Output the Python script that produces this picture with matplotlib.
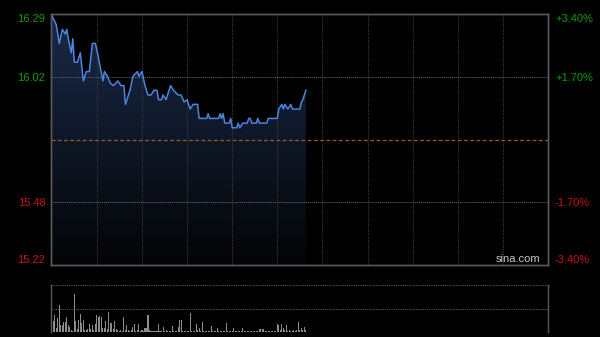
"""Intraday price / volume chart in the sina.com dark style."""

import matplotlib
matplotlib.use("Agg")
import matplotlib.pyplot as plt
import numpy as np
from matplotlib.colors import LinearSegmentedColormap

PREV_CLOSE = 15.75
SESSION_MINUTES = 330

# price path: minute index and price at each turning point
price_minutes = [0, 3, 5, 7, 9, 10, 11, 13, 14, 15, 17, 19, 21, 23, 25, 27, 29, 31,
                 34, 35, 37, 39, 41, 44, 46, 48, 49, 51, 52, 54, 57, 58, 60, 62,
                 64, 66, 68, 70, 71, 73, 74, 76, 79, 81, 84, 86, 88, 90, 92, 94,
                 97, 98, 103, 104, 105, 111, 112, 113, 114, 115, 118, 119, 120,
                 123, 124, 125, 127, 130, 131, 132, 133, 136, 137, 138, 143, 144,
                 150, 151, 153, 154, 155, 157, 159, 160, 165, 166, 167, 169]
price_values = [16.28, 16.24, 16.16, 16.22, 16.20, 16.22, 16.18, 16.12, 16.18, 16.08,
                16.08, 16.12, 16.00, 16.04, 16.04, 16.16, 16.16, 16.10,
                16.00, 16.04, 16.02, 15.99, 15.98, 16.00, 15.98, 15.98, 15.90,
                15.94, 15.96, 16.02, 16.04, 16.02, 16.04, 15.98,
                15.94, 15.94, 15.96, 15.96, 15.92, 15.92, 15.94, 15.92, 15.98,
                15.96, 15.94, 15.94, 15.91, 15.92, 15.88, 15.90,
                15.90, 15.84, 15.84, 15.86, 15.84, 15.84, 15.86, 15.84, 15.86,
                15.82, 15.82, 15.84, 15.80,
                15.80, 15.82, 15.80, 15.82, 15.82, 15.84, 15.84, 15.82, 15.82,
                15.84, 15.82, 15.82, 15.84,
                15.84, 15.88, 15.90, 15.88, 15.90, 15.88, 15.90, 15.88, 15.88,
                15.91, 15.92, 15.96]

# per-minute volume, scaled so the opening print is 100
volume = [100, 24, 37, 8, 29, 57, 14, 14, 21, 21,
          32, 14, 11, 5, 3, 81, 24, 6, 26, 39,
          19, 25, 5, 4, 6, 16, 7, 14, 5, 16,
          36, 32, 34, 32, 9, 9, 24, 6, 43, 19,
          19, 7, 24, 7, 4, 3, 4, 3, 32, 5,
          14, 4, 3, 4, 11, 16, 3, 4, 18, 3,
          4, 3, 9, 9, 36, 4, 3, 3, 2, 3,
          3, 16, 3, 2, 11, 3, 4, 3, 3, 2,
          12, 3, 2, 3, 11, 25, 25, 3, 2, 3,
          2, 3, 41, 3, 2, 3, 18, 4, 9, 3,
          21, 3, 2, 3, 2, 3, 12, 2, 3, 2,
          9, 3, 2, 3, 2, 3, 19, 2, 3, 2,
          3, 9, 2, 3, 2, 3, 2, 9, 3, 2,
          3, 2, 2, 3, 2, 3, 2, 3, 7, 7,
          7, 7, 3, 2, 3, 2, 3, 2, 3, 2,
          16, 14, 4, 16, 9, 4, 14, 3, 4, 3,
          3, 4, 3, 4, 21, 4, 9, 4, 11, 4]

pct_levels = [3.40, 1.70, -1.70, -3.40]
left_labels = ["16.29", "16.02", "15.48", "15.22"]
right_labels = ["+3.40%", "+1.70%", "-1.70%", "-3.40%"]

GREEN = "#0c9c0c"
RED = "#c81414"
SPINE = "#5a5a5a"
FONT = "Liberation Sans"


def draw_price(ax):
    lo = PREV_CLOSE * (1 - 0.034)
    hi = PREV_CLOSE * (1 + 0.034)
    ax.set_facecolor("black")
    ax.set_xlim(-0.5, SESSION_MINUTES)
    ax.set_ylim(lo, hi)

    # grid sits above the gradient fill, below the price line
    for m in range(30, SESSION_MINUTES, 30):
        ax.axvline(m, color="#3a3a3a", linewidth=0.8, linestyle=(0, (1, 1)), zorder=2.5)
    for p in (1.70, -1.70):
        ax.axhline(PREV_CLOSE * (1 + p / 100), color="#6a6a6a", linewidth=0.7,
                   linestyle=(0, (1, 1)), zorder=2.5)
    ax.axhline(PREV_CLOSE, color="#9a5a2c", linewidth=0.9, linestyle=(0, (3, 2)), zorder=2.5)

    x = np.array(price_minutes, dtype=float)
    y = np.array(price_values)
    poly = ax.fill_between(x, y, lo, color="none", linewidth=0)
    cmap = LinearSegmentedColormap.from_list("fade", ["#030406", "#1a2a48"])
    grad = ax.imshow(np.linspace(0, 1, 256).reshape(-1, 1), cmap=cmap, aspect="auto",
                     origin="lower", extent=(x[0], x[-1], lo, max(y)), zorder=2)
    grad.set_clip_path(poly.get_paths()[0], transform=ax.transData)
    ax.set_xlim(-0.5, SESSION_MINUTES)
    ax.set_ylim(lo, hi)
    ax.plot(x, y, color="#4d84dc", linewidth=1.1, zorder=3)

    ticks = [PREV_CLOSE * (1 + p / 100) for p in pct_levels]
    ax.set_yticks(ticks)
    ax.set_yticklabels(left_labels, fontfamily=FONT, fontsize=8)
    ax.set_xticks([])
    ax.tick_params(axis="y", length=0, pad=4)
    for lab, p in zip(ax.get_yticklabels(), pct_levels):
        lab.set_color(GREEN if p > 0 else RED)
    labs = ax.get_yticklabels()
    labs[0].set_verticalalignment("top")
    labs[-1].set_verticalalignment("bottom")

    twin = ax.twinx()
    twin.set_ylim(lo, hi)
    twin.set_yticks(ticks)
    twin.set_yticklabels(right_labels, fontfamily=FONT, fontsize=8)
    twin.tick_params(axis="y", length=0, pad=5)
    for lab, p in zip(twin.get_yticklabels(), pct_levels):
        lab.set_color(GREEN if p > 0 else RED)
    rl = twin.get_yticklabels()
    rl[0].set_verticalalignment("top")
    rl[-1].set_verticalalignment("bottom")

    for a in (ax, twin):
        for spine in a.spines.values():
            spine.set_color(SPINE)
            spine.set_linewidth(1.0)

    ax.text(0.985, 0.005, "sina.com", transform=ax.transAxes, ha="right", va="bottom",
            fontfamily=FONT, fontsize=8, color="#c8c8c8", zorder=5)


def draw_volume(ax):
    ax.set_facecolor("black")
    ax.set_xlim(-0.5, SESSION_MINUTES)
    ax.set_ylim(0, 100)
    for lvl in (0, 50, 100):
        ax.axhline(lvl, color="#5a5a5a", linewidth=0.8, linestyle=(0, (1, 1)), zorder=1)
    ax.bar(np.arange(len(volume)), volume, width=0.7, color="#8c8c8c", linewidth=0, zorder=2)
    ax.set_xticks([])
    ax.set_yticks([])
    for name, spine in ax.spines.items():
        spine.set_visible(name in ("left", "right"))
        spine.set_color(SPINE)
        spine.set_linewidth(1.0)


def main():
    fig = plt.figure(figsize=(6.0, 3.37), dpi=100, facecolor="black")
    ax_price = fig.add_axes([51 / 600, 1 - 265 / 337, 497 / 600, 251 / 337])
    ax_vol = fig.add_axes([51 / 600, 1 - 332 / 337, 497 / 600, 47 / 337])
    draw_price(ax_price)
    draw_volume(ax_vol)
    fig.savefig("out.png", dpi=100, facecolor="black")
    plt.close(fig)


if __name__ == "__main__":
    main()
